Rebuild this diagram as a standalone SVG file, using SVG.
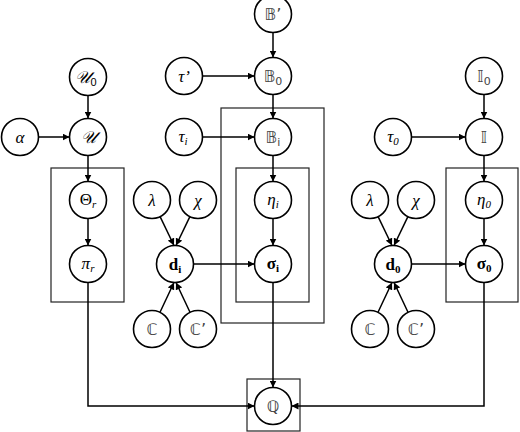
<svg xmlns="http://www.w3.org/2000/svg" width="520" height="432" viewBox="0 0 520 432">
<defs>
<marker id="ah" viewBox="0 0 10 10" refX="10" refY="5" markerWidth="7" markerHeight="7" markerUnits="userSpaceOnUse" orient="auto">
<path d="M0,0 L10,5 L0,10 z" fill="#000"/>
</marker>
<style>
circle{fill:#fff;stroke:#000;stroke-width:1.6}
.plate{fill:none;stroke:#222;stroke-width:1.2}
.c line,.c path{fill:none;stroke:#000;stroke-width:1.5;marker-end:url(#ah)}
text{font-family:"Liberation Serif","DejaVu Serif",serif;font-size:17px;text-anchor:middle;fill:#000}
.it{font-style:italic}
.ds{font-family:"DejaVu Sans","DejaVu Serif",serif;fill:#444;font-size:16px}
.b{font-weight:bold}
.sub{font-size:11px}
</style>
</defs>
<rect width="520" height="432" fill="#fff"/>
<g id="plates">
<rect class="plate" x="51" y="168" width="73" height="134"/>
<rect class="plate" x="221" y="108" width="103" height="215"/>
<rect class="plate" x="236" y="168" width="73" height="134"/>
<rect class="plate" x="446" y="168" width="72" height="134"/>
<rect class="plate" x="247" y="379" width="53" height="52"/>
</g>
<g class="c" id="connectors">
<line x1="38.5" y1="137" x2="69.5" y2="137"/>
<line x1="88" y1="95.5" x2="88" y2="118.5"/>
<line x1="88" y1="155.5" x2="88" y2="181.5"/>
<line x1="88" y1="218.5" x2="88" y2="245.5"/>
<path d="M88,282.5 V406 H254.5"/>
<line x1="273" y1="32.5" x2="273" y2="57.5"/>
<line x1="202.5" y1="76" x2="254.5" y2="76"/>
<line x1="273" y1="94.5" x2="273" y2="118.5"/>
<line x1="202.5" y1="137" x2="254.5" y2="137"/>
<line x1="273" y1="155.5" x2="273" y2="181.5"/>
<line x1="273" y1="218.5" x2="273" y2="245.5"/>
<line x1="273" y1="282.5" x2="273" y2="387.5"/>
<line x1="160.1" y1="216.6" x2="174" y2="245.5"/>
<line x1="189.9" y1="216.6" x2="176" y2="245.5"/>
<line x1="160" y1="312.3" x2="174" y2="282.5"/>
<line x1="190" y1="312.3" x2="176" y2="282.5"/>
<line x1="193.5" y1="264" x2="254.5" y2="264"/>
<line x1="484" y1="94.5" x2="484" y2="118.5"/>
<line x1="411.5" y1="137" x2="465.5" y2="137"/>
<line x1="484" y1="155.5" x2="484" y2="181.5"/>
<line x1="484" y1="218.5" x2="484" y2="245.5"/>
<line x1="378.1" y1="216.6" x2="392" y2="245.5"/>
<line x1="407.9" y1="216.6" x2="394" y2="245.5"/>
<line x1="378" y1="312.3" x2="392" y2="282.5"/>
<line x1="408" y1="312.3" x2="394" y2="282.5"/>
<line x1="411.5" y1="264" x2="465.5" y2="264"/>
<path d="M484,282.5 V406 H291.5"/>
</g>
<g id="alpha"><circle cx="20" cy="137" r="18.5"/><text x="20" y="143" class="it">α</text></g>
<g id="U0"><circle cx="88" cy="77" r="18.5"/><text x="86" y="83" class="it">𝒰<tspan class="sub" dy="3" font-style="normal" font-family="Liberation Sans">0</tspan></text></g>
<g id="U"><circle cx="88" cy="137" r="18.5"/><text x="88" y="143" class="it">𝒰</text></g>
<g id="theta_r"><circle cx="88" cy="200" r="18.5"/><text x="88" y="205">Θ<tspan class="sub it" dy="3">r</tspan></text></g>
<g id="pi_r"><circle cx="88" cy="264" r="18.5"/><text x="88" y="269" class="it">π<tspan class="sub" dy="3">r</tspan></text></g>
<g id="lambda_i"><circle cx="152" cy="200" r="18.5"/><text x="152" y="206" class="it">λ</text></g>
<g id="chi_i"><circle cx="198" cy="200" r="18.5"/><text x="198" y="206" class="it">χ</text></g>
<g id="d_i"><circle cx="175" cy="264" r="18.5"/><text x="175" y="270" class="b">d<tspan class="sub" dy="3">i</tspan></text></g>
<g id="C_i"><circle cx="152" cy="329" r="18.5"/><text x="152" y="335" class="ds">ℂ</text></g>
<g id="Cp_i"><circle cx="198" cy="329" r="18.5"/><text x="198" y="335" class="ds">ℂ’</text></g>
<g id="tau_p"><circle cx="184" cy="76" r="18.5"/><text x="184" y="82" class="it">τ’</text></g>
<g id="tau_i"><circle cx="184" cy="137" r="18.5"/><text x="183" y="142" class="it">τ<tspan class="sub" dy="3">i</tspan></text></g>
<g id="B_p"><circle cx="273" cy="14" r="18.5"/><text x="273" y="20" class="ds">𝔹’</text></g>
<g id="B0"><circle cx="273" cy="76" r="18.5"/><text x="273" y="82" class="ds">𝔹<tspan class="sub" dy="3">0</tspan></text></g>
<g id="Bi"><circle cx="273" cy="137" r="18.5"/><text x="273" y="143" class="ds">𝔹<tspan class="sub" dy="3">i</tspan></text></g>
<g id="eta_i"><circle cx="273" cy="200" r="18.5"/><text x="273" y="205" class="it">η<tspan class="sub" dy="3">i</tspan></text></g>
<g id="sigma_i"><circle cx="273" cy="264" r="18.5"/><text x="273" y="269" class="b">σ<tspan class="sub" dy="3">i</tspan></text></g>
<g id="Q"><circle cx="273" cy="406" r="18.5"/><text x="273" y="412" class="ds">ℚ</text></g>
<g id="tau_0"><circle cx="393" cy="137" r="18.5"/><text x="393" y="142" class="it">τ<tspan class="sub" dy="3">0</tspan></text></g>
<g id="I0"><circle cx="484" cy="76" r="18.5"/><text x="484" y="82" class="ds">𝕀<tspan class="sub" dy="3">0</tspan></text></g>
<g id="I"><circle cx="484" cy="137" r="18.5"/><text x="484" y="143" class="ds">𝕀</text></g>
<g id="lambda_0"><circle cx="370" cy="200" r="18.5"/><text x="370" y="206" class="it">λ</text></g>
<g id="chi_0"><circle cx="416" cy="200" r="18.5"/><text x="416" y="206" class="it">χ</text></g>
<g id="d_0"><circle cx="393" cy="264" r="18.5"/><text x="393" y="270" class="b">d<tspan class="sub" dy="3">0</tspan></text></g>
<g id="C_0"><circle cx="370" cy="329" r="18.5"/><text x="370" y="335" class="ds">ℂ</text></g>
<g id="Cp_0"><circle cx="416" cy="329" r="18.5"/><text x="416" y="335" class="ds">ℂ’</text></g>
<g id="eta_0"><circle cx="484" cy="200" r="18.5"/><text x="484" y="205" class="it">η<tspan class="sub" dy="3">0</tspan></text></g>
<g id="sigma_0"><circle cx="484" cy="264" r="18.5"/><text x="484" y="269" class="b">σ<tspan class="sub" dy="3">0</tspan></text></g>
</svg>
